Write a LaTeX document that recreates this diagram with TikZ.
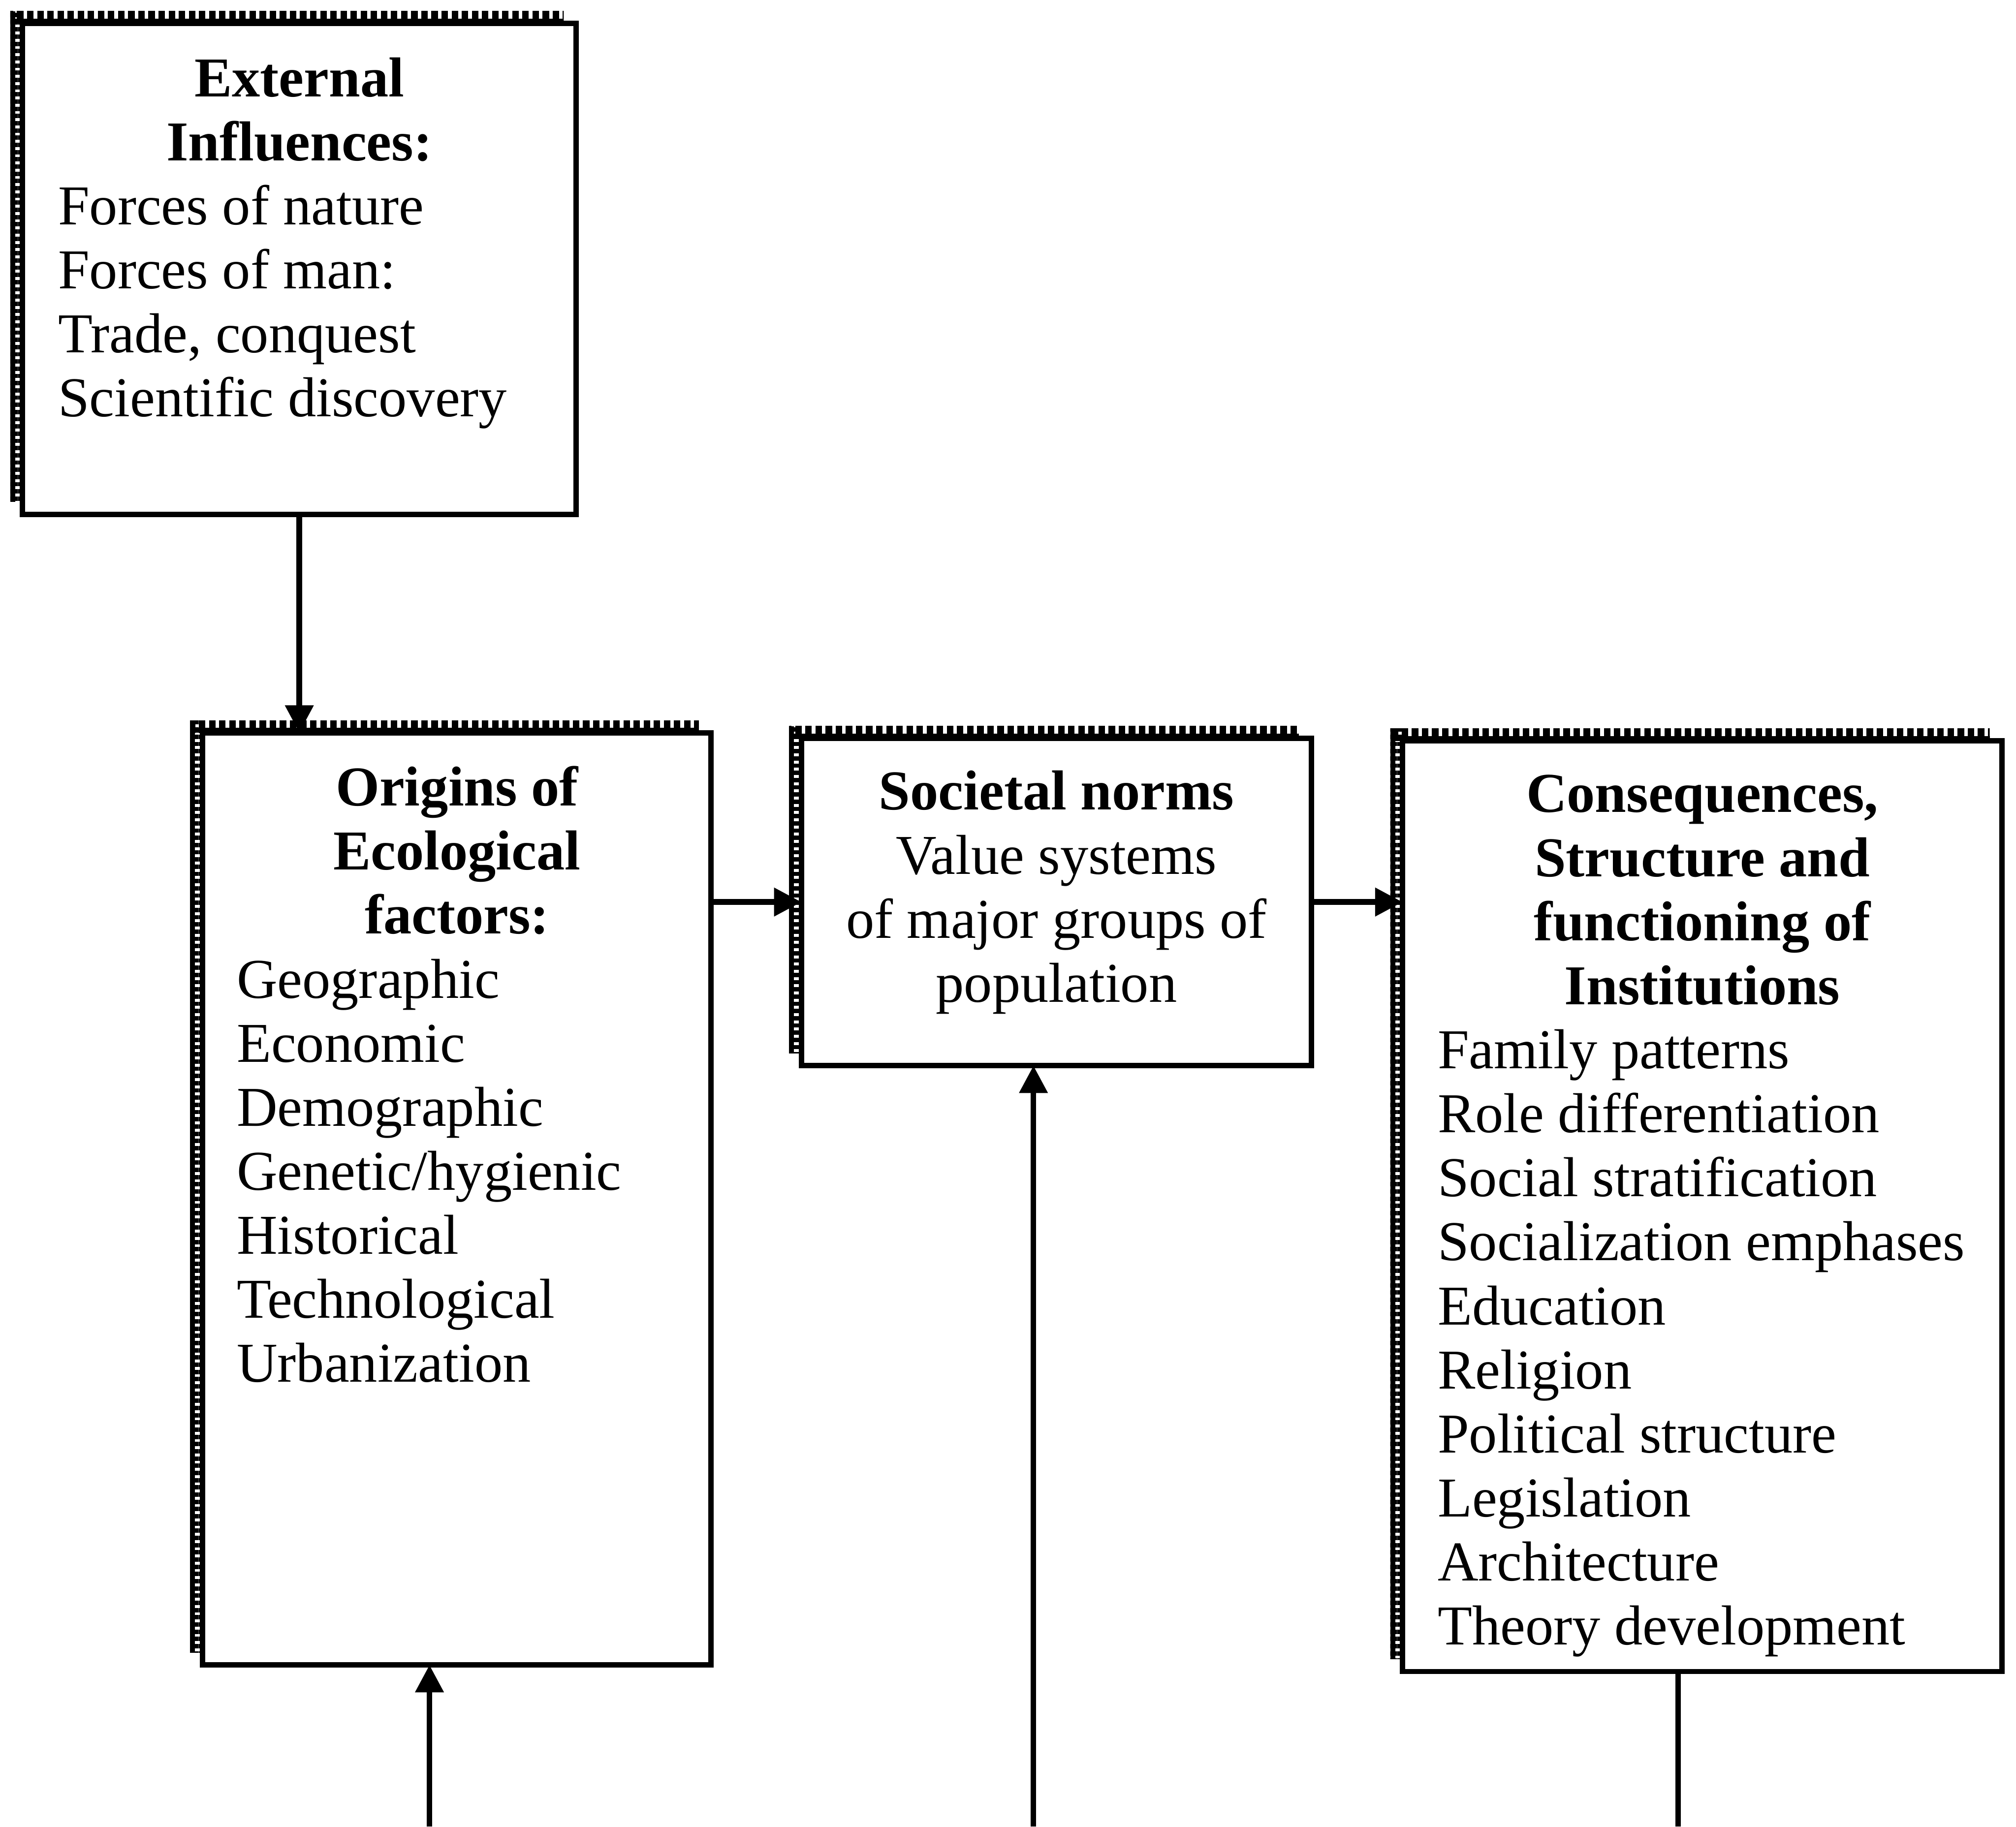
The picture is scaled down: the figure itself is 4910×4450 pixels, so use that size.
\documentclass[tikz,border=0pt]{standalone}
\usepackage{fontspec}
\setmainfont{Liberation Serif}
\usetikzlibrary{arrows.meta,calc,fit,backgrounds,patterns.meta}

\tikzset{
  box/.style={draw=black, line width=3.7pt, fill=white, inner sep=0pt, outer sep=0pt},
  head/.style={font=\fontsize{39}{44}\selectfont\bfseries, inner sep=0pt},
  body/.style={font=\fontsize{39}{44}\selectfont, inner sep=0pt},
  link/.style={draw=black, line width=3.9pt},
  arr/.style={link, -{Triangle[length=19pt,width=19pt]}},
  tophatch/.style={pattern={Lines[angle=90,distance=7pt,line width=4.5pt]}},
  sidehatch/.style={pattern={Lines[angle=0,distance=5pt,line width=3pt]}}
}

\begin{document}
\begin{tikzpicture}[x=0.01cm,y=-0.01cm]
\useasboundingbox (0,0) rectangle (4910,4450);

% the four frames
\node[box, fit={(55,57) (1403,1253)}] (ext) {};
\node[box, fit={(493,1785) (1732,4056)}] (orig) {};
\node[box, fit={(1952,1799) (3194,2596)}] (norms) {};
\node[box, fit={(3416,1805) (4876,4072)}] (cons) {};

% hatched shadow along the top and left of every frame
\begin{scope}[on background layer]
  \fill[white] (0,0) rectangle (4910,4450);
  \foreach \b in {ext,orig,norms,cons} {
    \fill[tophatch] ($(\b.north west)+(-30,-30)$) rectangle ($(\b.north east)+(-30,0)$);
    \fill[black] ($(\b.north west)+(-30,-12)$) rectangle ($(\b.north east)+(-30,0)$);
    \fill[sidehatch] ($(\b.north west)+(-30,-30)$) rectangle ($(\b.south west)+(0,-30)$);
    \fill[black] ($(\b.north west)+(-30,-30)$) rectangle ($(\b.south west)+(-18,-30)$);
  }
\end{scope}

% External influences
\node[head, anchor=base] (ext-h1) at (729,235) {External};
\node[head, anchor=base] (ext-h2) at (729,391) {Influences:};
\foreach [count=\i from 0] \t in {Forces of nature, Forces of man:, {Trade, conquest}, Scientific discovery}
  \node[body, anchor=base west] (ext-l\i) at (141,{547+156*\i}) {\t};

% Origins of ecological factors
\node[head, anchor=base] (orig-h1) at (1113,1963) {Origins of};
\node[head, anchor=base] (orig-h2) at (1113,2119) {Ecological};
\node[head, anchor=base] (orig-h3) at (1113,2275) {factors:};
\foreach [count=\i from 0] \t in {Geographic, Economic, Demographic, Genetic/hygienic, Historical, Technological, Urbanization}
  \node[body, anchor=base west] (orig-l\i) at (576,{2431+156*\i}) {\t};

% Societal norms
\node[head, anchor=base] (norms-h1) at (2573,1973) {Societal norms};
\foreach [count=\i from 0] \t in {Value systems, of major groups of, population}
  \node[body, anchor=base] (norms-l\i) at (2573,{2129+156*\i}) {\t};

% Consequences
\foreach [count=\i from 0] \t in {{Consequences,}, Structure and, functioning of, Institutions}
  \node[head, anchor=base] (cons-h\i) at (4146,{1979+156*\i}) {\t};
\foreach [count=\i from 0] \t in {Family patterns, Role differentiation, Social stratification, Socialization emphases, Education, Religion, Political structure, Legislation, Architecture, Theory development}
  \node[body, anchor=base west] (cons-l\i) at (3501,{2603+156*\i}) {\t};

% connectors
\coordinate (in-orig) at (1046,4450);
\coordinate (in-norms) at (2517,4450);
\coordinate (out-cons) at (4087,4450);

\draw[arr] (ext.south) -- (ext.south |- orig.north);
\draw[arr] (orig.east |- norms.west) -- (norms.west);
\draw[arr] (norms.east) -- (norms.east -| cons.west);
\draw[arr] (in-orig) -- (in-orig |- orig.south);
\draw[arr] (in-norms) -- (in-norms |- norms.south);
\draw[link] (out-cons |- cons.south) -- (out-cons);
\end{tikzpicture}
\end{document}
